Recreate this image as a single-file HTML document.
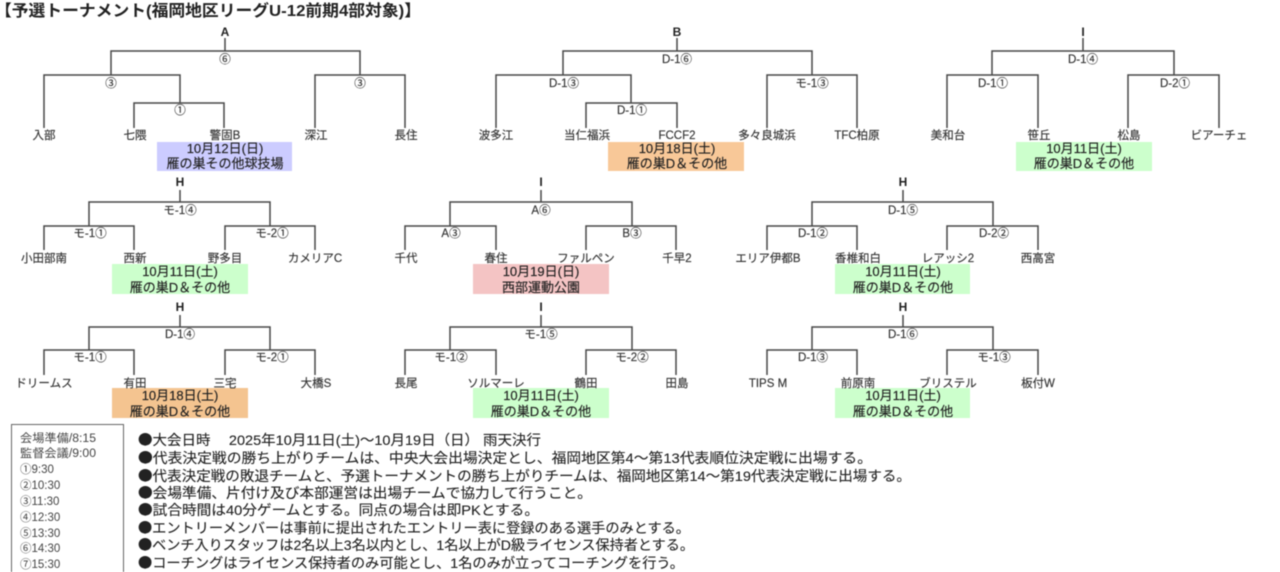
<!DOCTYPE html>
<html lang="ja">
<head>
<meta charset="utf-8">
<title>予選トーナメント</title>
<style>
html,body{margin:0;padding:0;background:#fff;width:1280px;height:572px;overflow:hidden}
svg{display:block;filter:blur(0.45px)}
text{font-family:"Liberation Sans","Noto Sans CJK JP",sans-serif;fill:#333}
.l text{font-size:11.5px;text-anchor:middle;stroke:#333;stroke-width:.15px}
.b text{font-size:13px;text-anchor:middle;fill:#222;stroke:#222;stroke-width:.15px}
.r text{font-size:12px;text-anchor:middle;font-weight:bold;fill:#222}
.n text{font-size:14px;fill:#222;stroke:#222;stroke-width:.12px}
.n tspan{font-family:"Noto Sans CJK JP",sans-serif}
.k text{font-size:11.5px;fill:#444}
path{fill:none;stroke:#484848;stroke-width:1.5}
</style>
</head>
<body>
<svg width="1280" height="572" viewBox="0 0 1280 572" xmlns="http://www.w3.org/2000/svg">
<rect width="1280" height="572" fill="#fff"/>
<text x="-5" y="16" font-size="16" font-weight="bold" textLength="426" lengthAdjust="spacingAndGlyphs" style="fill:#222">【予選トーナメント(福岡地区リーグU-12前期4部対象)】</text>

<!-- boxes -->
<rect x="157" y="142" width="135" height="29" fill="#ccccff"/>
<rect x="608" y="142" width="136" height="29" fill="#f8c898"/>
<rect x="1016" y="142" width="136" height="29" fill="#ccffcc"/>
<rect x="112" y="264" width="136" height="30" fill="#ccffcc"/>
<rect x="473" y="264" width="136" height="30" fill="#f4c4c4"/>
<rect x="835" y="264" width="135" height="30" fill="#ccffcc"/>
<rect x="112" y="388" width="136" height="30" fill="#f4c490"/>
<rect x="473" y="388" width="136" height="30" fill="#ccffcc"/>
<rect x="835" y="388" width="135" height="30" fill="#ccffcc"/>

<!-- connectors -->
<path d="M225 38V51M111 75V51H360V75M44 128V75H180V103M315 128V75H405V128M134 128V103H224V128"/>
<path d="M677 38V51M563 75V51H812V75M496 128V75H631V103M767 128V75H857V128M586 128V103H677V128"/>
<path d="M1083 38V51M992 75V51H1174V75M947 128V75H1038V128M1128 128V75H1219V128"/>

<path d="M180 190V202M89 226V202H270V226M44 250V226H134V250M225 250V226H315V250"/>
<path d="M541 190V202M450 226V202H632V226M405 250V226H496V250M586 250V226H676V250"/>
<path d="M903 190V202M812 226V202H993V226M767 250V226H857V250M947 250V226H1038V250"/>

<path d="M180 315V327M89 350V327H270V350M44 375V350H134V375M225 375V350H315V375"/>
<path d="M541 315V327M450 350V327H632V350M405 375V350H496V375M586 375V350H676V375"/>
<path d="M903 315V327M812 350V327H993V350M767 375V350H857V375M947 375V350H1038V375"/>

<!-- root labels -->
<g class="r">
<text x="225" y="36">A</text><text x="677" y="36">B</text><text x="1083" y="36">I</text>
<text x="180" y="186">H</text><text x="541" y="186">I</text><text x="903" y="186">H</text>
<text x="180" y="311">H</text><text x="541" y="311">I</text><text x="903" y="311">H</text>
</g>

<!-- match and team labels -->
<g class="l">
<text x="225" y="63">⑥</text><text x="111" y="87">③</text><text x="360" y="87">③</text><text x="180" y="114">①</text>
<text x="44" y="139">入部</text><text x="135" y="139">七隈</text><text x="225" y="139">警固B</text><text x="316" y="139">深江</text><text x="406" y="139">長住</text>

<text x="677" y="63">D-1⑥</text><text x="564" y="87">D-1③</text><text x="812" y="87">モ-1③</text><text x="632" y="114">D-1①</text>
<text x="496" y="139">波多江</text><text x="587" y="139">当仁福浜</text><text x="677" y="139">FCCF2</text><text x="767" y="139">多々良城浜</text><text x="857" y="139">TFC柏原</text>

<text x="1083" y="63">D-1④</text><text x="993" y="87">D-1①</text><text x="1175" y="87">D-2①</text>
<text x="948" y="139">美和台</text><text x="1039" y="139">笹丘</text><text x="1129" y="139">松島</text><text x="1219" y="139">ビアーチェ</text>

<text x="180" y="214">モ-1④</text><text x="90" y="237">モ-1①</text><text x="272" y="237">モ-2①</text>
<text x="44" y="262">小田部南</text><text x="135" y="262">西新</text><text x="225" y="262">野多目</text><text x="315" y="262">カメリアC</text>

<text x="541" y="214">A⑥</text><text x="451" y="237">A③</text><text x="632" y="237">B③</text>
<text x="406" y="262">千代</text><text x="496" y="262">春住</text><text x="586" y="262">ファルペン</text><text x="677" y="262">千早2</text>

<text x="903" y="214">D-1⑤</text><text x="813" y="237">D-1②</text><text x="994" y="237">D-2②</text>
<text x="768" y="262">エリア伊都B</text><text x="858" y="262">香椎和白</text><text x="948" y="262">レアッシ2</text><text x="1038" y="262">西高宮</text>

<text x="180" y="338">D-1④</text><text x="90" y="361">モ-1①</text><text x="272" y="361">モ-2①</text>
<text x="44" y="387">ドリームス</text><text x="135" y="387">有田</text><text x="225" y="387">三宅</text><text x="316" y="387">大橋S</text>

<text x="541" y="338">モ-1⑤</text><text x="451" y="361">モ-1②</text><text x="632" y="361">モ-2②</text>
<text x="406" y="387">長尾</text><text x="496" y="387">ソルマーレ</text><text x="586" y="387">鶴田</text><text x="677" y="387">田島</text>

<text x="903" y="338">D-1⑥</text><text x="813" y="361">D-1③</text><text x="994" y="361">モ-1③</text>
<text x="768" y="387">TIPS M</text><text x="858" y="387">前原南</text><text x="948" y="387">ブリステル</text><text x="1038" y="387">板付W</text>
</g>

<!-- box text -->
<g class="b">
<text x="225" y="153">10月12日(日)</text><text x="225" y="168">雁の巣その他球技場</text>
<text x="677" y="153">10月18日(土)</text><text x="677" y="168">雁の巣D＆その他</text>
<text x="1084" y="153">10月11日(土)</text><text x="1084" y="168">雁の巣D＆その他</text>
<text x="180" y="276">10月11日(土)</text><text x="180" y="292">雁の巣D＆その他</text>
<text x="541" y="276">10月19日(日)</text><text x="541" y="292">西部運動公園</text>
<text x="903" y="276">10月11日(土)</text><text x="903" y="292">雁の巣D＆その他</text>
<text x="180" y="400">10月18日(土)</text><text x="180" y="416">雁の巣D＆その他</text>
<text x="541" y="400">10月11日(土)</text><text x="541" y="416">雁の巣D＆その他</text>
<text x="903" y="400">10月11日(土)</text><text x="903" y="416">雁の巣D＆その他</text>
</g>

<!-- legend -->
<rect x="11.5" y="424.5" width="112" height="150" fill="#fff" stroke="#666" stroke-width="1"/>
<g class="k">
<text x="20" y="442" textLength="76" lengthAdjust="spacingAndGlyphs">会場準備/8:15</text>
<text x="20" y="457" textLength="76" lengthAdjust="spacingAndGlyphs">監督会議/9:00</text>
<text x="20" y="473">①9:30</text>
<text x="20" y="489">②10:30</text>
<text x="20" y="505">③11:30</text>
<text x="20" y="521">④12:30</text>
<text x="20" y="537">⑤13:30</text>
<text x="20" y="552">⑥14:30</text>
<text x="20" y="568">⑦15:30</text>
</g>

<!-- notes -->
<g class="n">
<text x="138" y="445" textLength="403" lengthAdjust="spacingAndGlyphs"><tspan>●</tspan>大会日時　 2025年10月11日(土)～10月19日（日） 雨天決行</text>
<text x="138" y="463" textLength="734" lengthAdjust="spacingAndGlyphs"><tspan>●</tspan>代表決定戦の勝ち上がりチームは、中央大会出場決定とし、福岡地区第4～第13代表順位決定戦に出場する。</text>
<text x="138" y="481" textLength="773" lengthAdjust="spacingAndGlyphs"><tspan>●</tspan>代表決定戦の敗退チームと、予選トーナメントの勝ち上がりチームは、福岡地区第14～第19代表決定戦に出場する。</text>
<text x="138" y="498" textLength="454" lengthAdjust="spacingAndGlyphs"><tspan>●</tspan>会場準備、片付け及び本部運営は出場チームで協力して行うこと。</text>
<text x="138" y="515" textLength="401" lengthAdjust="spacingAndGlyphs"><tspan>●</tspan>試合時間は40分ゲームとする。同点の場合は即PKとする。</text>
<text x="138" y="533" textLength="552" lengthAdjust="spacingAndGlyphs"><tspan>●</tspan>エントリーメンバーは事前に提出されたエントリー表に登録のある選手のみとする。</text>
<text x="138" y="550" textLength="556" lengthAdjust="spacingAndGlyphs"><tspan>●</tspan>ベンチ入りスタッフは2名以上3名以内とし、1名以上がD級ライセンス保持者とする。</text>
<text x="138" y="568" textLength="546" lengthAdjust="spacingAndGlyphs"><tspan>●</tspan>コーチングはライセンス保持者のみ可能とし、1名のみが立ってコーチングを行う。</text>
</g>
</svg>
</body>
</html>
